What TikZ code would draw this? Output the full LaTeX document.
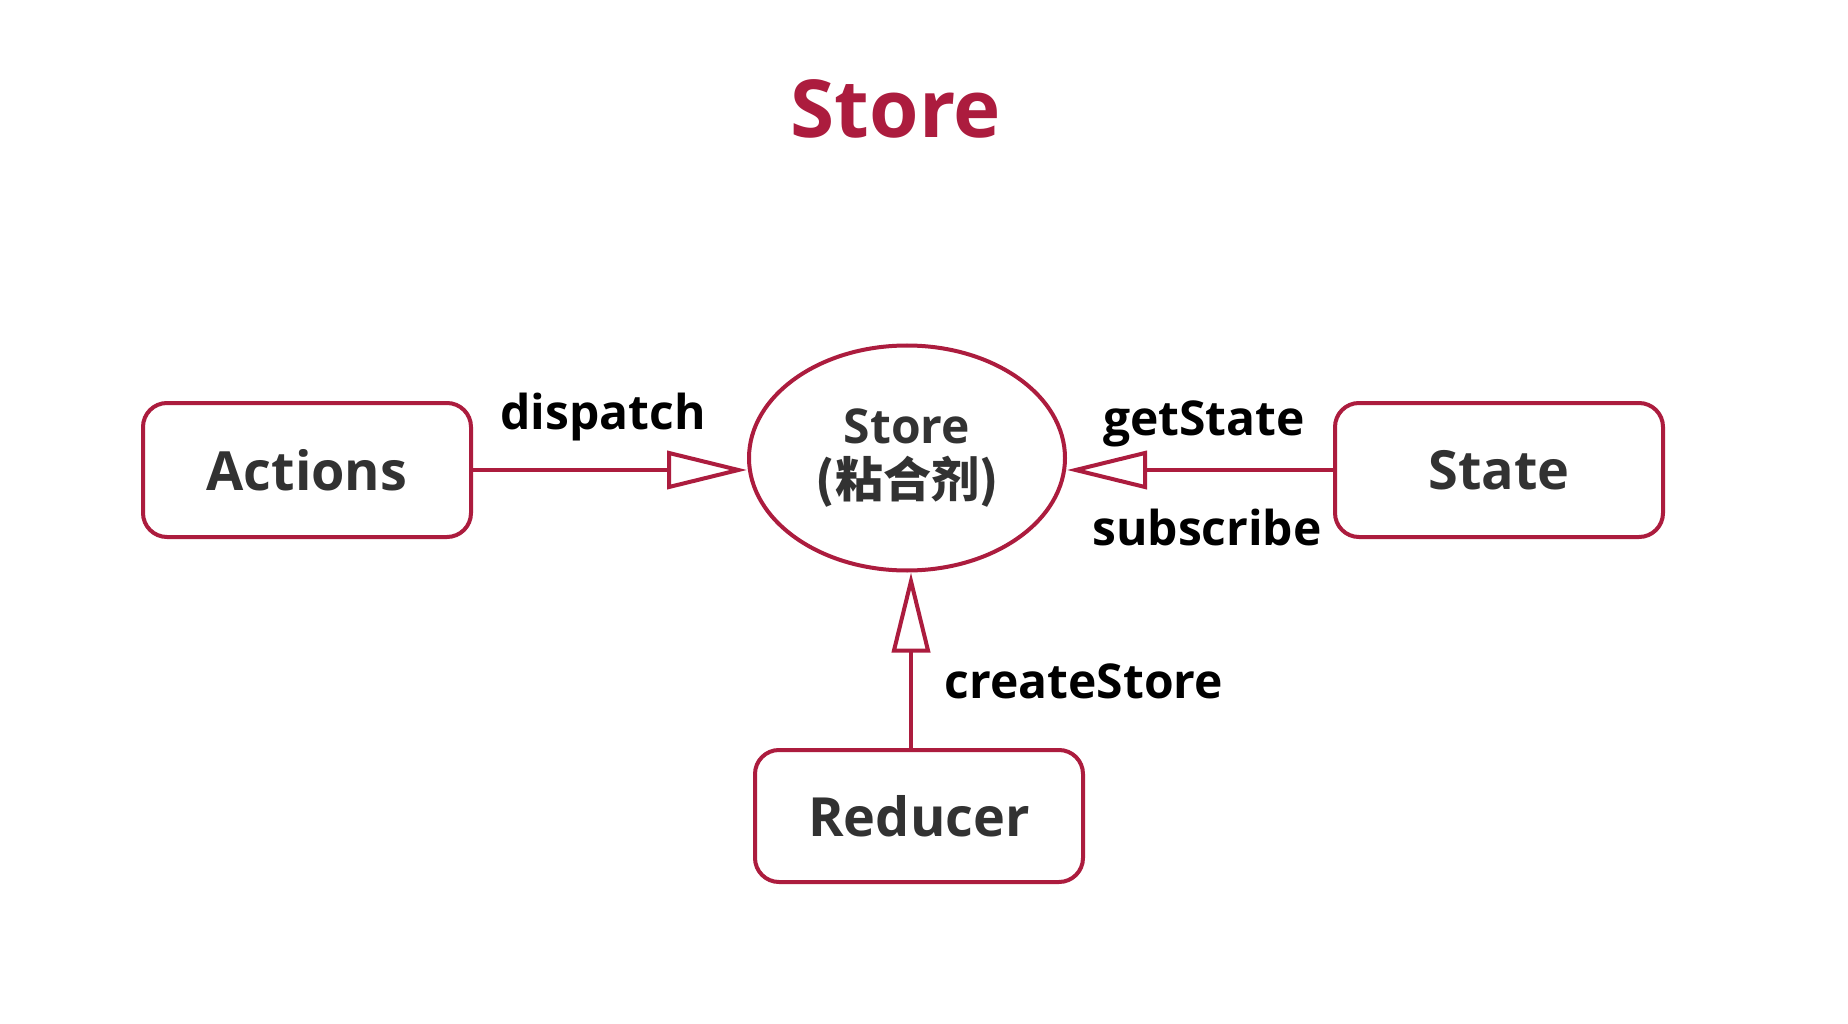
\documentclass[tikz,border=0pt]{standalone}
\usepackage{fontspec}
\setmainfont{Open Sans}
\newfontfamily\cjk{Noto Sans CJK SC}
\usetikzlibrary{arrows.meta,shapes.geometric}
\definecolor{crim}{RGB}{172,28,62}
\definecolor{txt}{RGB}{50,50,50}
\begin{document}
\begin{tikzpicture}[x=1pt,y=-1pt,
  box/.style={draw=crim, line width=4pt, rounded corners=24pt, minimum width=328pt, minimum height=134pt, fill=white, text=txt, inner sep=0pt, font=\fontsize{54}{60}\selectfont\bfseries},
  conn/.style={draw=crim, line width=4pt, -{Triangle[length=80pt,width=38pt,fill=white]}},
  lbl/.style={font=\fontsize{48}{54}\selectfont\bfseries, text=black, anchor=base, inner sep=0pt}]
\fill[white] (0,0) rectangle (1848,1024);
\useasboundingbox (0,0) rectangle (1848,1024);
\node[font=\fontsize{80}{90}\selectfont\bfseries, text=crim, anchor=base, inner sep=0pt] (title) at (896,138) {Store};
\node[box] (actions) at (307,470) {Actions};
\node[box] (state) at (1499,470) {State};
\node[box, minimum height=132pt] (reducer) at (919,816) {Reducer};
\node[ellipse, draw=crim, line width=4pt, fill=white, minimum width=316pt, minimum height=225pt, inner sep=0pt, align=center, text=txt, font=\fontsize{48}{54}\selectfont\bfseries] (store) at (907,458) {Store\\{\cjk (粘合剂)}};
\draw[conn] (actions.east) -- (store.west |- actions.east);
\draw[conn] (state.west) -- (store.east |- state.west);
\coordinate (rtop) at ([xshift=-8pt]reducer.north);
\draw[conn] (rtop) -- (rtop |- store.south);
\node[lbl] (dispatch) at (603,429) {dispatch};
\node[lbl] (getstate) at (1204,435) {getState};
\node[lbl] (subscribe) at (1207,545) {subscribe};
\node[lbl] (createstore) at (1084,698) {createStore};
\end{tikzpicture}
\end{document}
